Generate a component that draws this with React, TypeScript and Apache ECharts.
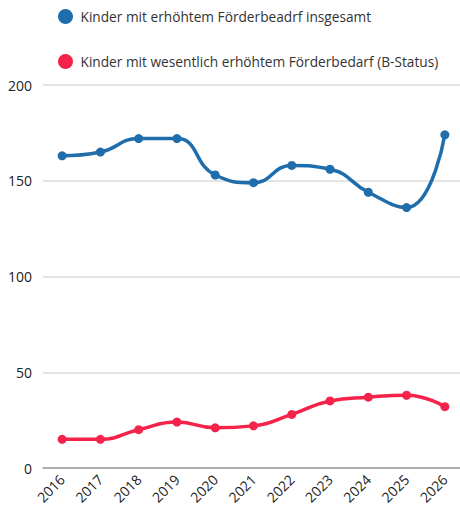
import React, { useEffect, useRef } from "react";
import * as echarts from "echarts";

const years = ["2016", "2017", "2018", "2019", "2020", "2021", "2022", "2023", "2024", "2025", "2026"];
const insgesamt = [163, 165, 172, 172, 153, 149, 158, 156, 144, 136, 174];
const bStatus = [15, 15, 20, 24, 21, 22, 28, 35, 37, 38, 32];
const seriesNames = [
  "Kinder mit erhöhtem Förderbeadrf insgesamt",
  "Kinder mit wesentlich erhöhtem Förderbedarf (B-Status)",
];
const colors = ["#1f6dab", "#f5234a"];

export default function App() {
  const ref = useRef<HTMLDivElement>(null);
  useEffect(() => {
    if (!ref.current) return;
    const chart = echarts.init(ref.current, undefined, { renderer: "svg" });
    const font = "'Open Sans', 'Noto Sans', sans-serif";
    chart.setOption({
      animation: false,
      textStyle: { fontFamily: font },
      color: colors,
      legend: {
        orient: "vertical",
        left: 53,
        top: 4,
        itemGap: 30,
        itemWidth: 20,
        itemHeight: 15,
        icon: "circle",
        textStyle: { fontSize: 13.7, color: "#333", fontFamily: font },
        data: seriesNames,
      },
      grid: { left: 43, right: 6, top: 85, bottom: 42 },
      xAxis: {
        type: "category",
        data: years,
        boundaryGap: true,
        axisLine: { lineStyle: { color: "#999", width: 1.5 } },
        axisTick: { show: false },
        axisLabel: { rotate: 45, fontSize: 14, color: "#222", margin: 9, fontFamily: font },
      },
      yAxis: {
        type: "value",
        min: 0,
        max: 200,
        interval: 50,
        axisLine: { show: false },
        axisTick: { show: false },
        axisLabel: { fontSize: 14, color: "#222", margin: 11, fontFamily: font },
        splitLine: { lineStyle: { color: "#dcdcdc", width: 1.5 } },
      },
      series: [
        {
          name: seriesNames[0],
          type: "line",
          data: insgesamt,
          smooth: 0.5,
          symbol: "circle",
          symbolSize: 9,
          lineStyle: { width: 3.5, color: colors[0] },
          itemStyle: { color: colors[0] },
        },
        {
          name: seriesNames[1],
          type: "line",
          data: bStatus,
          smooth: 0.5,
          symbol: "circle",
          symbolSize: 9,
          lineStyle: { width: 3.5, color: colors[1] },
          itemStyle: { color: colors[1] },
        },
      ],
    });
    return () => chart.dispose();
  }, []);
  return (
    <div style={{ position: "absolute", left: 0, top: 0, width: 460, height: 510, overflow: "hidden" }}>
      <div ref={ref} style={{ width: 470, height: 510 }} />
    </div>
  );
}
